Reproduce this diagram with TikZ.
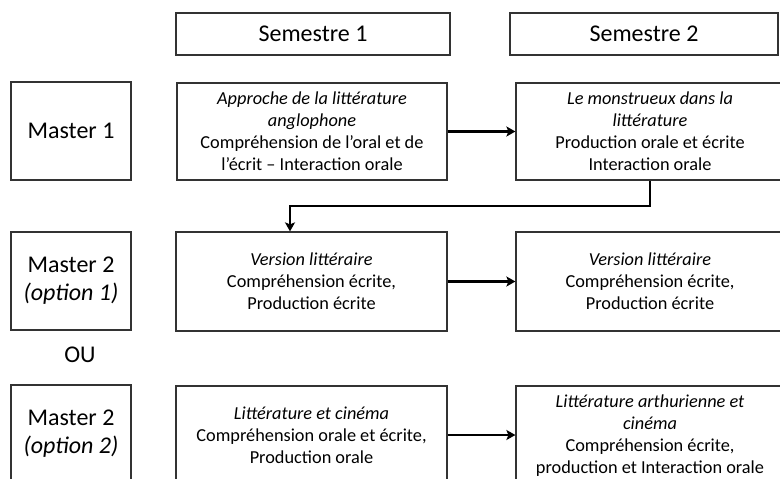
\documentclass[tikz,border=0pt]{standalone}
\usepackage{fontspec}
\setmainfont{Carlito}
\usetikzlibrary{arrows.meta}
\tikzset{
  box/.style={draw=black!80, line width=1.2pt, fill=white, inner sep=0pt, align=center,
    font=\fontsize{18.3}{22}\selectfont},
  bigbox/.style={box, font=\fontsize{24}{28}\selectfont},
  arr/.style={draw=black, line width=2.2pt, -{Stealth[length=9pt,width=10pt,inset=2pt]}},
}
\begin{document}
\begin{tikzpicture}[x=1pt,y=-1pt]
\useasboundingbox (0,0) rectangle (780,479);
\clip (0,0) rectangle (780,479);
\fill[white] (0,0) rectangle (780,479);
% headers
\node[bigbox, minimum width=274pt, minimum height=42pt] (s1h) at (313,34) {Semestre 1};
\node[bigbox, minimum width=268pt, minimum height=42pt] (s2h) at (644,34) {Semestre 2};
% row 1
\node[bigbox, minimum width=120pt, minimum height=98pt] (m1) at (71,131) {Master 1};
\node[box, minimum width=270pt, minimum height=97pt] (r1a) at (312,131.5)
  {\textit{Approche de la littérature}\\ \textit{anglophone}\\ Compréhension de l’oral et de\\ l’écrit – Interaction orale};
\node[box, minimum width=268pt, minimum height=97pt] (r1b) at (650,131.5)
  {\textit{Le monstrueux dans la}\\ \textit{littérature}\\ Production orale et écrite\\ Interaction orale};
% row 2
\node[bigbox, minimum width=120pt, minimum height=98pt] (m2a) at (71,281) {Master 2\\ \textit{(option 1)}};
\node[box, minimum width=271pt, minimum height=99pt] (r2a) at (311.5,281.5)
  {\textit{Version littéraire}\\ Compréhension écrite,\\ Production écrite};
\node[box, minimum width=268pt, minimum height=99pt] (r2b) at (650,281.5)
  {\textit{Version littéraire}\\ Compréhension écrite,\\ Production écrite};
\node[font=\fontsize{24}{28}\selectfont, inner sep=0pt] (ou) at (80,355) {OU};
% row 3
\node[bigbox, minimum width=120pt, minimum height=98pt] (m3) at (71,434) {Master 2\\ \textit{(option 2)}};
\node[box, minimum width=271pt, minimum height=98pt] (r3a) at (311.5,435)
  {\textit{Littérature et cinéma}\\ Compréhension orale et écrite,\\ Production orale};
\node[box, minimum width=268pt, minimum height=100pt] (r3b) at (650,436)
  {\textit{Littérature arthurienne et}\\ \textit{cinéma}\\ Compréhension écrite,\\ production et Interaction orale};
% connectors
\draw[arr] (r1a.east) -- (r1b.west |- r1a.east);
\coordinate (elb) at (290,206);
\draw[arr] (r1b.south) |- (elb) -- (elb |- r2a.north);
\draw[arr] (r2a.east) -- (r2b.west |- r2a.east);
\draw[arr] (r3a.east) -- (r3b.west |- r3a.east);
\end{tikzpicture}
\end{document}
